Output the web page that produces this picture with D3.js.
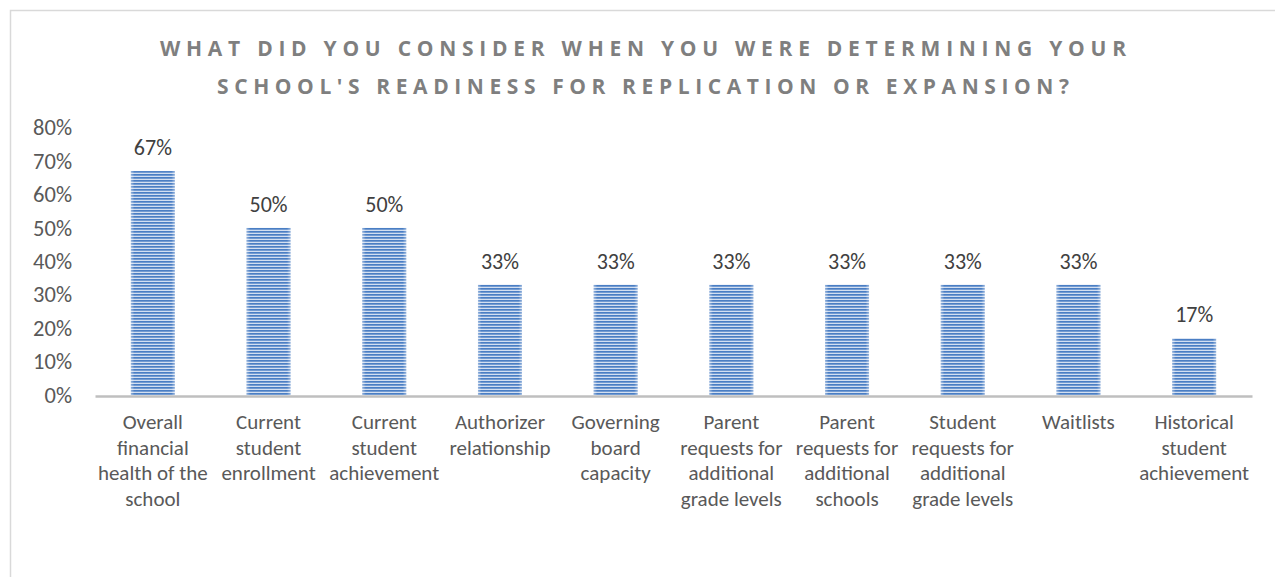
<!DOCTYPE html>
<html>
<head>
<meta charset="utf-8">
<script src="https://cdn.jsdelivr.net/npm/d3@7"></script>
<style>
  html, body { margin: 0; padding: 0; background: #fff; }
  svg { display: block; }
  text { font-family: Carlito, Calibri, Lato, "Open Sans", sans-serif; }
  text.title { font-family: "Open Sans", Lato, sans-serif; }
</style>
</head>
<body>
<svg id="chart" width="1275" height="577"></svg>
<script>
const titleLines = [
  "WHAT DID YOU CONSIDER WHEN YOU WERE DETERMINING YOUR",
  "SCHOOL'S READINESS FOR REPLICATION OR EXPANSION?"
];
const categories = [
  "Overall\nfinancial\nhealth of the\nschool",
  "Current\nstudent\nenrollment",
  "Current\nstudent\nachievement",
  "Authorizer\nrelationship",
  "Governing\nboard\ncapacity",
  "Parent\nrequests for\nadditional\ngrade levels",
  "Parent\nrequests for\nadditional\nschools",
  "Student\nrequests for\nadditional\ngrade levels",
  "Waitlists",
  "Historical\nstudent\nachievement"
];
const values = [0.67, 0.50, 0.50, 0.33, 0.33, 0.33, 0.33, 0.33, 0.33, 0.17];
const yTicks = [0, 0.1, 0.2, 0.3, 0.4, 0.5, 0.6, 0.7, 0.8];

const svg = d3.select("#chart");

// chart area border
svg.append("rect")
  .attr("x", 10.5).attr("y", 10.5)
  .attr("width", 1400).attr("height", 700)
  .attr("fill", "#fff").attr("stroke", "#d9d9d9").attr("stroke-width", 1.5);

// pattern
const defs = svg.append("defs");
const pat = defs.append("pattern")
  .attr("id", "stripes").attr("patternUnits", "userSpaceOnUse")
  .attr("width", 8).attr("height", 3);
pat.append("rect").attr("width", 8).attr("height", 3).attr("fill", "#d3dff1");
pat.append("rect").attr("y", 0).attr("width", 8).attr("height", 1.7).attr("fill", "#4a7ec4");

const edge = defs.append("linearGradient").attr("id", "edge").attr("x1", 0).attr("x2", 1);
edge.append("stop").attr("offset", 0).attr("stop-color", "#fff").attr("stop-opacity", 0.4);
edge.append("stop").attr("offset", 0.08).attr("stop-color", "#fff").attr("stop-opacity", 0);
edge.append("stop").attr("offset", 0.92).attr("stop-color", "#fff").attr("stop-opacity", 0);
edge.append("stop").attr("offset", 1).attr("stop-color", "#fff").attr("stop-opacity", 0.4);

const x = d3.scaleBand().domain(categories).range([95, 1252]).paddingInner(0.62).paddingOuter(0.31);
const y = d3.scaleLinear().domain([0, 0.8]).range([395, 127.6]);

// title
const titleWidths = [966, 852];
svg.append("g").selectAll("text").data(titleLines).join("text")
  .attr("class", "title")
  .attr("x", 643).attr("y", (d, i) => 56 + i * 38)
  .attr("text-anchor", "middle")
  .attr("fill", "#7f7f7f")
  .attr("font-size", 21).attr("font-weight", "bold")
  .attr("textLength", (d, i) => titleWidths[i])
  .attr("lengthAdjust", "spacing")
  .text(d => d);

// y axis
const yAxis = svg.append("g").attr("transform", "translate(79,0)")
  .call(d3.axisLeft(y).tickValues(yTicks).tickFormat(d3.format(".0%")).tickSize(0).tickPadding(7));
yAxis.select(".domain").remove();
yAxis.selectAll("text").attr("font-size", 22.5).attr("fill", "#595959");

// bars
const bars = svg.append("g");
bars.selectAll("rect.bar").data(values).join("rect").attr("class", "bar")
  .attr("x", (d, i) => x(categories[i]))
  .attr("y", d => y(d))
  .attr("width", x.bandwidth())
  .attr("height", d => y(0) - y(d))
  .attr("fill", "url(#stripes)");
bars.selectAll("rect.edge").data(values).join("rect").attr("class", "edge")
  .attr("x", (d, i) => x(categories[i]))
  .attr("y", d => y(d))
  .attr("width", x.bandwidth())
  .attr("height", d => y(0) - y(d))
  .attr("fill", "url(#edge)");

// x axis
const xAxis = svg.append("g").attr("transform", `translate(0,${y(0) + 1})`)
  .call(d3.axisBottom(x).tickSize(0).tickFormat(""));
xAxis.select(".domain").attr("stroke", "#bfbfbf").attr("stroke-width", 2.5);

// category labels
const lab = svg.append("g").selectAll("text").data(categories).join("text")
  .attr("x", d => x(d) + x.bandwidth() / 2)
  .attr("y", 429)
  .attr("text-anchor", "middle")
  .attr("fill", "#595959")
  .attr("font-size", 21);
lab.selectAll("tspan").data(d => d.split("\n")).join("tspan")
  .attr("x", function () { return d3.select(this.parentNode).attr("x"); })
  .attr("dy", (d, i) => i === 0 ? 0 : 25.7)
  .text(d => d);

// value labels
svg.append("g").selectAll("text").data(values).join("text")
  .attr("x", (d, i) => x(categories[i]) + x.bandwidth() / 2)
  .attr("y", d => y(d) - 16)
  .attr("text-anchor", "middle")
  .attr("fill", "#404040")
  .attr("font-size", 22)
  .text(d => d3.format(".0%")(d));
</script>
</body>
</html>
